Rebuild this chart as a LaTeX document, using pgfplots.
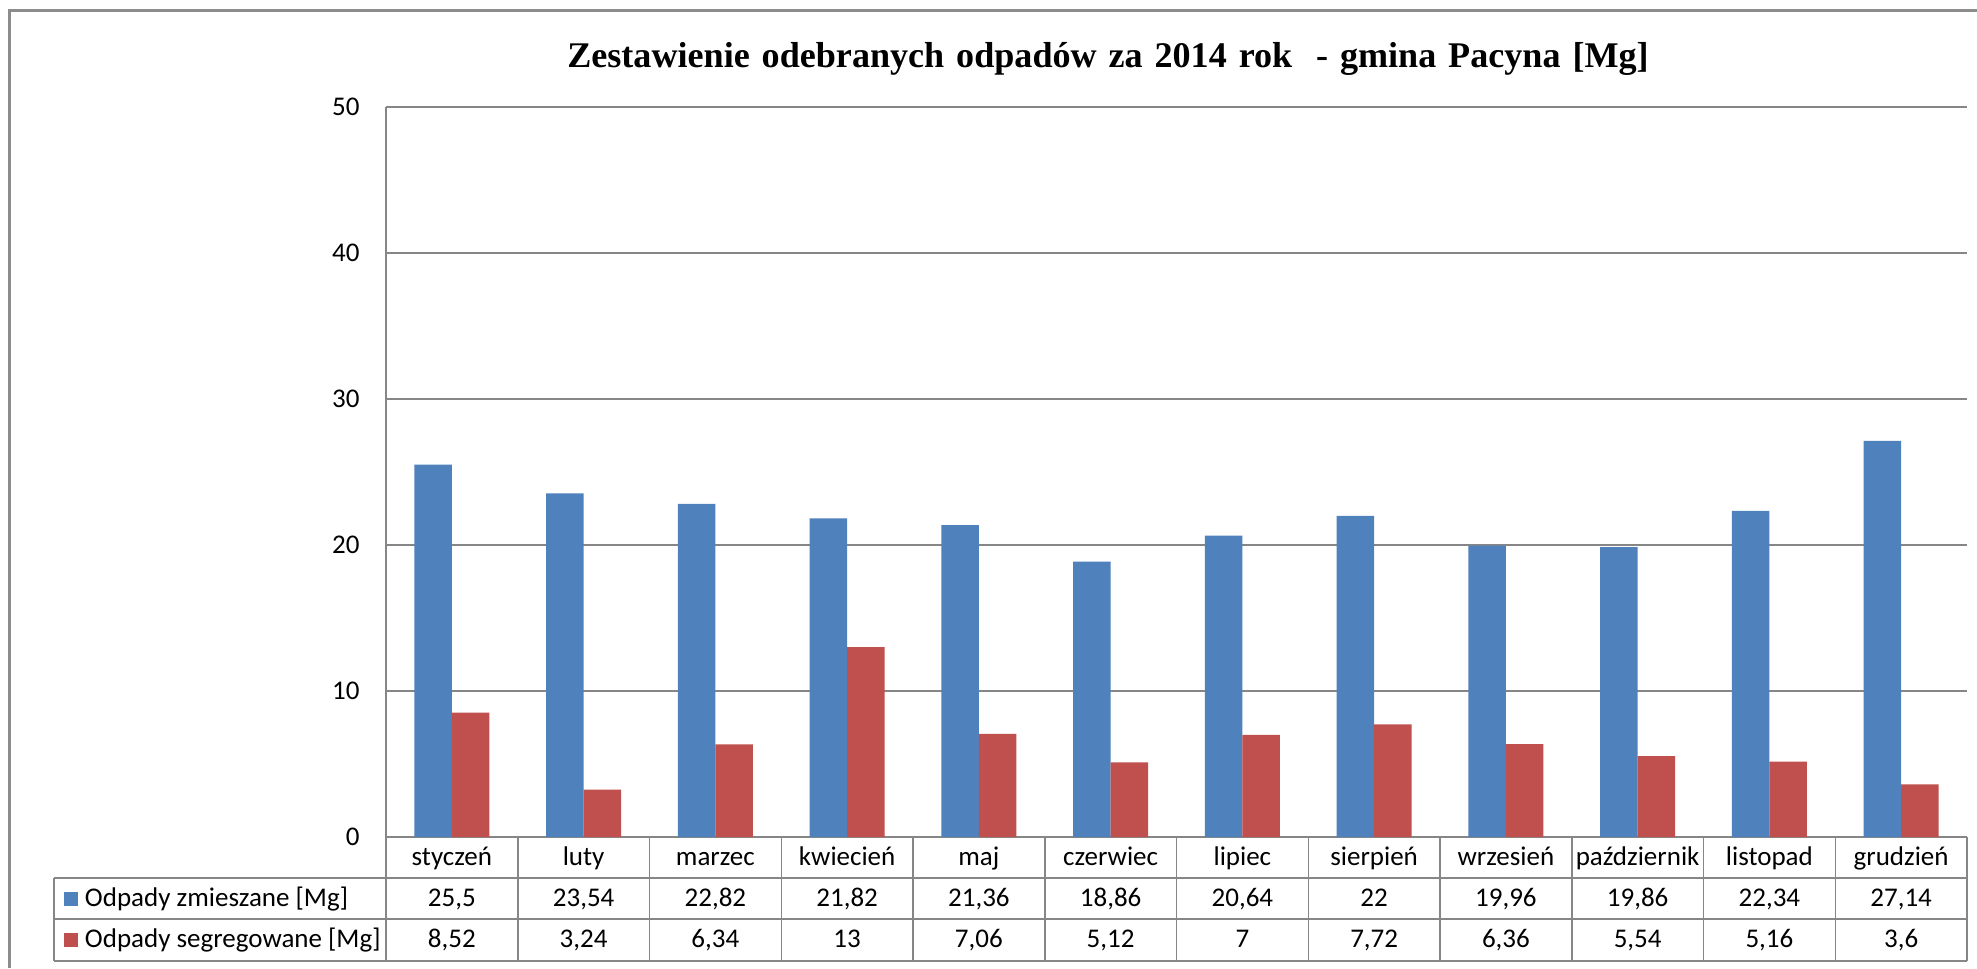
\documentclass[border=0pt]{standalone}
\usepackage{fontspec}
\setmainfont{Carlito}
\newfontfamily\titlefont{Liberation Serif}
\usepackage{pgfplots}
\usepackage{pgfplotstable}
\pgfplotsset{compat=1.18}
\newlength\px \setlength\px{0.36pt}
\definecolor{blueb}{HTML}{4F81BD}
\definecolor{redb}{HTML}{C0504D}
\definecolor{gridgray}{HTML}{868686}
\definecolor{framegray}{HTML}{8C8C8C}
\newcommand\lab{\fontsize{9.72pt}{11pt}\selectfont}
\pgfkeys{/pgf/number format/assume math mode=true}

\pgfplotstableread{
idx zm seg
0 25.5 8.52
1 23.54 3.24
2 22.82 6.34
3 21.82 13
4 21.36 7.06
5 18.86 5.12
6 20.64 7
7 22 7.72
8 19.96 6.36
9 19.86 5.54
10 22.34 5.16
11 27.14 3.6
}\data

\begin{document}
\begin{tikzpicture}
\useasboundingbox (0,0) rectangle (1977\px,968\px);
\fill[white] (0,0) rectangle (1977\px,968\px);
\draw[framegray, line width=3\px] (9\px,0) -- (9\px,957\px) -- (1977\px,957\px);
\node[font=\titlefont\bfseries\fontsize{13pt}{15pt}\selectfont, anchor=base, inner sep=0pt]
  at (1108\px,900\px) {\spaceskip=0.33em Zestawienie odebranych odpadów za 2014 rok \ - gmina Pacyna [Mg]};

\begin{axis}[
  at={(386\px,131\px)}, anchor=south west, scale only axis,
  width=1581\px, height=730\px,
  ymin=0, ymax=50, ytick={0,10,...,50},
  xmin=-0.5, xmax=11.5, xtick={0,...,11},
  xticklabels={styczeń,luty,marzec,kwiecień,maj,czerwiec,lipiec,sierpień,wrzesień,październik,listopad,grudzień},
  axis lines*=left,
  axis line style={gridgray, line width=1.5\px},
  ymajorgrids, major grid style={gridgray, line width=1.5\px},
  major tick length=0pt,
  ybar=0pt, bar width=37.6\px,
  tick label style={font=\lab},
  /pgf/number format/assume math mode=true,
  yticklabel style={anchor=east, inner sep=0pt, xshift=-26\px},
  xticklabel style={anchor=base, inner sep=0pt, yshift=-28\px},
  legend style={at={(-0.20367,-0.05616)}, anchor=north west, draw=none, fill=none,
    inner sep=0pt, outer sep=0pt, row sep=0pt, column sep=0pt, font=\lab,
    nodes={inner sep=0pt, text height=28\px, text depth=13\px, anchor=base west},
    /tikz/every odd column/.append style={column sep=7\px}},
  legend image code/.code={\fill[#1] (0,0) rectangle (14\px,14\px);},
  legend cell align=left,
  clip=false,
]
\addplot[fill=blueb, draw=none] table[x=idx,y=zm]{\data};
\addplot[fill=redb, draw=none] table[x=idx,y=seg]{\data};
\legend{Odpady zmieszane [Mg], Odpady segregowane [Mg]}
\end{axis}

\begin{scope}[gridgray, line width=1.5\px]
\draw (54\px,90\px) -- (1967\px,90\px);
\draw (54\px,49\px) -- (1967\px,49\px);
\draw (54\px,7\px) -- (1967\px,7\px);
\draw (54\px,90\px) -- (54\px,7\px);
\foreach \k in {0,...,12}{
  \pgfmathsetmacro\vx{386+\k*131.75}
  \draw (\vx\px,131\px) -- (\vx\px,7\px);
}
\end{scope}
\foreach \i in {0,...,11}{
  \pgfmathsetmacro\cx{386+(\i+0.5)*131.75}
  \pgfplotstablegetelem{\i}{zm}\of\data
  \node[anchor=base, inner sep=0pt, font=\lab] at (\cx\px,62\px) {\pgfmathprintnumber[use comma]{\pgfplotsretval}};
  \pgfplotstablegetelem{\i}{seg}\of\data
  \node[anchor=base, inner sep=0pt, font=\lab] at (\cx\px,21\px) {\pgfmathprintnumber[use comma]{\pgfplotsretval}};
}
\end{tikzpicture}
\end{document}
